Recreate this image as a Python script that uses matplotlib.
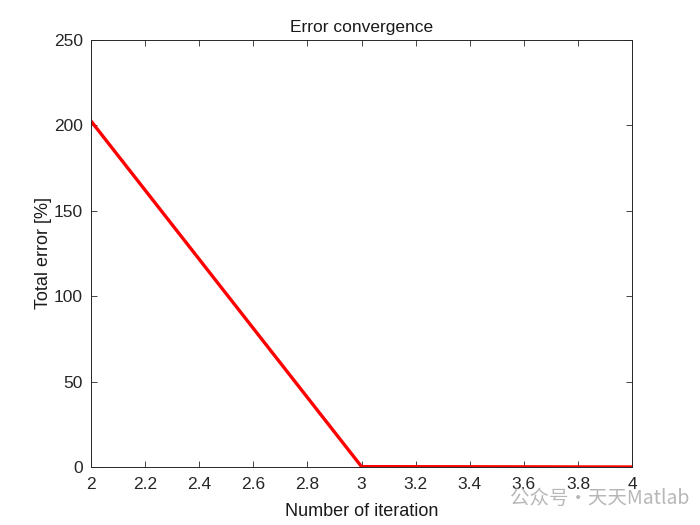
import matplotlib
matplotlib.use('Agg')
import matplotlib.pyplot as plt

iterations = [2, 3, 4]
total_error = [202.5, 0.2, 0.0]
x_ticks = [2, 2.2, 2.4, 2.6, 2.8, 3, 3.2, 3.4, 3.6, 3.8, 4]
x_labels = ['2', '2.2', '2.4', '2.6', '2.8', '3', '3.2', '3.4', '3.6', '3.8', '4']
y_ticks = [0, 50, 100, 150, 200, 250]

plt.rcParams['font.family'] = ['Liberation Sans', 'DejaVu Sans']
plt.rcParams['font.size'] = 10

fig = plt.figure(figsize=(7, 5.25), dpi=100)
ax = fig.add_axes([0.13, 0.1105, 0.773, 0.8135])
ax.plot(iterations, total_error, color='red', linewidth=2.4)

ax.set_xlim(2, 4)
ax.set_ylim(0, 250)
ax.set_xticks(x_ticks)
ax.set_xticklabels(x_labels)
ax.set_yticks(y_ticks)
ax.tick_params(direction='in', top=True, right=True, length=4, width=0.6,
               labelsize=12.5, colors='#262626')
ax.tick_params(axis='x', pad=7)
ax.tick_params(axis='y', pad=6)
for s in ax.spines.values():
    s.set_linewidth(0.7)
    s.set_color('#262626')

ax.set_title('Error convergence', fontsize=12.5, color='#1a1a1a', pad=6)
ax.set_xlabel('Number of iteration', fontsize=13, color='#1a1a1a', labelpad=8)
ax.set_ylabel('Total error [%]', fontsize=13, color='#1a1a1a', labelpad=1)

# watermark
fig.text(0.985, 0.05, '公众号·天天Matlab', ha='right', va='center',
         fontsize=14, color='#b0b0b0', alpha=0.9,
         family=['Noto Sans CJK SC', 'DejaVu Sans'])

fig.savefig('out.png', dpi=100)
